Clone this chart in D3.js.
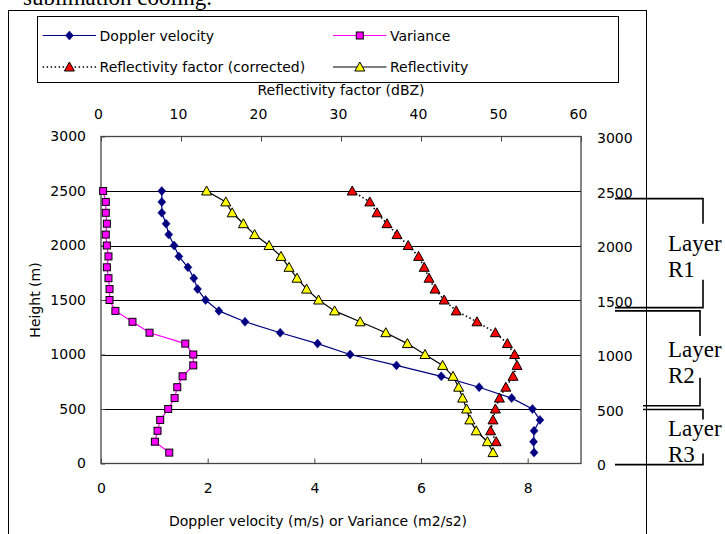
<!DOCTYPE html>
<html><head><meta charset="utf-8">
<script src="https://cdn.jsdelivr.net/npm/d3@7"></script>
<style>body{margin:0;background:#fff}svg{display:block}</style>
</head><body>
<svg id="c" width="725" height="534"></svg>
<script>
// ---------------- data ----------------
const heights = [2500,2400,2300,2200,2100,2000,1900,1800,1700,1600,1500,1400,1300,1200,1100,1000,900,800,700,600,500,400,300,200,100];
const dopplerVelocity = [1.14,1.14,1.14,1.22,1.27,1.37,1.46,1.63,1.74,1.81,1.96,2.21,2.70,3.36,4.06,4.67,5.54,6.38,7.09,7.70,8.09,8.23,8.12,8.11,8.12];
const variance = [0.04,0.09,0.09,0.11,0.09,0.11,0.14,0.11,0.14,0.16,0.16,0.27,0.59,0.91,1.58,1.73,1.73,1.53,1.43,1.38,1.26,1.11,1.06,1.01,1.28];
const reflectivity = [13.2,15.6,16.4,17.8,19.2,21.0,22.5,23.5,24.5,25.7,27.2,29.2,32.4,35.6,38.3,40.5,42.7,44.0,44.7,45.2,45.7,46.1,46.9,48.3,49.0];
const correctedHeights = heights.slice(0,24);
const reflectivityCorrected = [31.4,33.6,34.5,35.75,37.0,38.4,39.7,40.4,41.0,41.75,42.9,44.4,47.0,49.3,50.8,51.7,52.0,51.5,50.6,49.8,49.3,49.0,48.7,49.4];
const bottomTicks = [0,2,4,6,8];
const topTicks = [0,10,20,30,40,50,60];
const heightTicks = [0,500,1000,1500,2000,2500,3000];
const gridTicks = [500,1000,1500,2000,2500];
const legendLabels = ["Doppler velocity","Variance","Reflectivity factor (corrected)","Reflectivity"];
const layerNames = ["R1","R2","R3"];
const layerTops = [2430,1400,495];
const layerBottoms = [1430,530,-10];

// ---------------- layout ----------------
const svg = d3.select("#c");
const FONT = "'DejaVu Sans', sans-serif";
const FS = 14;
const L = 101, T = 136.5, W = 480, H = 327;
const x = d3.scaleLinear().domain([0,9]).range([L, L+W]);
const xTop = d3.scaleLinear().domain([0,60]).range([L, L+W]);
const y = d3.scaleLinear().domain([0,3000]).range([T+H, T]);

// caption text above, partially cut
svg.append("text").attr("x",23).attr("y",5).attr("font-family","'Liberation Serif', 'Times New Roman', serif")
  .attr("font-size",23).text("sublimation cooling.");

// chart border
svg.append("rect").attr("x",8.5).attr("y",10.5).attr("width",638).attr("height",560)
  .attr("fill","#fff").attr("stroke","#000").attr("stroke-width",1);

// legend
const lg = svg.append("g");
lg.append("rect").attr("x",37.5).attr("y",16.5).attr("width",581).attr("height",66)
  .attr("fill","#fff").attr("stroke","#000");

const diamond = "M0,-4.5L4,0L0,4.5L-4,0Z";
const tri = "M0,-5L5,4L-5,4Z";
const series = [
  {name:legendLabels[0], xs:dopplerVelocity, hs:heights, sc:x, line:"#000080", dash:null, shape:diamond, fill:"#000080", stroke:"#000080", sw:0.5, lx:42.6, ly:35.5},
  {name:legendLabels[1], xs:variance, hs:heights, sc:x, line:"#ff00ff", dash:null, shape:"square", fill:"#ff00ff", stroke:"#000", sw:1, lx:333, ly:35.5},
  {name:legendLabels[2], xs:reflectivityCorrected, hs:correctedHeights, sc:xTop, line:"#000", dash:"1.5,2.5", shape:tri, fill:"#ff0000", stroke:"#000", sw:1, lx:42.6, ly:67},
  {name:legendLabels[3], xs:reflectivity, hs:heights, sc:xTop, line:"#000", dash:null, shape:tri, fill:"#ffff00", stroke:"#000", sw:1, lx:333, ly:67}
];
function marker(g, s, cx, cy){
  if (s.shape === "square") {
    g.append("rect").attr("x",cx-3.5).attr("y",cy-3.5).attr("width",7).attr("height",7)
      .attr("fill",s.fill).attr("stroke",s.stroke).attr("stroke-width",s.sw);
  } else {
    g.append("path").attr("d",s.shape).attr("transform",`translate(${cx},${cy})`)
      .attr("fill",s.fill).attr("stroke",s.stroke).attr("stroke-width",s.sw);
  }
}
series.forEach(s=>{
  lg.append("line").attr("x1",s.lx).attr("x2",s.lx+53.5).attr("y1",s.ly).attr("y2",s.ly)
    .attr("stroke",s.line).attr("stroke-width",s.dash?1.6:1.2).attr("stroke-dasharray",s.dash);
  marker(lg, s, s.lx+26.8, s.ly);
  lg.append("text").attr("x",s.lx+57).attr("y",s.ly+5).attr("font-family",FONT).attr("font-size",FS).text(s.name);
});

// gridlines
svg.append("g").selectAll("line").data(gridTicks).join("line")
  .attr("x1",L).attr("x2",L+W).attr("y1",d=>Math.round(y(d))+0.5).attr("y2",d=>Math.round(y(d))+0.5)
  .attr("stroke","#000").attr("stroke-width",1);

// plot frame
svg.append("rect").attr("x",L).attr("y",T).attr("width",W).attr("height",H)
  .attr("fill","none").attr("stroke","#444").attr("stroke-width",1.3);

// axes
const axB = svg.append("g").attr("transform",`translate(0,${T+H})`)
  .call(d3.axisBottom(x).tickValues(bottomTicks).tickSize(-5).tickPadding(20).tickFormat(d3.format("d")));
const axT = svg.append("g").attr("transform",`translate(0,${T})`)
  .call(d3.axisTop(xTop).tickValues(topTicks).tickSize(-5).tickPadding(18).tickFormat(d3.format("d")));
const axL = svg.append("g").attr("transform",`translate(${L},0)`)
  .call(d3.axisLeft(y).tickValues(heightTicks).tickSize(-4).tickPadding(15).tickFormat(d3.format("d")));
const axR = svg.append("g").attr("transform",`translate(${L+W},0)`)
  .call(d3.axisRight(y).tickValues(heightTicks).tickSize(0).tickPadding(16).tickFormat(d3.format("d")));
[axB,axT,axL,axR].forEach(a=>{
  a.select(".domain").remove();
  a.selectAll(".tick line").attr("stroke","#444");
  a.selectAll("text").attr("font-family",FONT).attr("font-size",FS).attr("fill","#000");
});
axT.selectAll("text").attr("dx",-3);
axR.selectAll("text").attr("dy","0.45em");

// axis titles
svg.append("text").attr("x",L+W/2).attr("y",95).attr("text-anchor","middle").attr("font-family",FONT).attr("font-size",FS).text("Reflectivity factor (dBZ)");
svg.append("text").attr("x",L+W/2-23).attr("y",526).attr("text-anchor","middle").attr("font-family",FONT).attr("font-size",FS).text("Doppler velocity (m/s) or Variance (m2/s2)");
svg.append("text").attr("transform",`translate(40,${T+H/2}) rotate(-90)`).attr("text-anchor","middle").attr("font-family",FONT).attr("font-size",FS).text("Height (m)");

// series
series.forEach(s=>{
  const g = svg.append("g");
  const pts = s.xs.map((v,i)=>[s.sc(v), y(s.hs[i])]);
  g.append("path").attr("d",d3.line()(pts)).attr("fill","none").attr("stroke",s.line)
    .attr("stroke-width",s.dash?1.6:1.2).attr("stroke-dasharray",s.dash);
  pts.forEach(p=>marker(g,s,p[0],p[1]));
});

// layer annotations
const SERIF = "'Liberation Serif', 'Times New Roman', serif";
const ag = svg.append("g").attr("stroke","#000").attr("stroke-width",1.6).attr("fill","none");
const bx = 703, lx0 = 615, lx1 = 643;
layerNames.forEach((n,i)=>{
  const yt = y(layerTops[i]), yb = y(layerBottoms[i]);
  const xl = i===2 ? lx1 : lx0;
  const xlb = i===1 ? lx1 : lx0;
  const xv = i===1 ? 700 : bx;
  ag.append("path").attr("d",`M${xl},${yt}H${xv}V${yt+ (i===2?10:25)}`);
  ag.append("path").attr("d",`M${xlb},${yb}H${xv}V${yb-(i===2?11:28)}`);
  const ty = i===0 ? 251 : i===1 ? 356.5 : 435.5;
  svg.append("text").attr("x",668).attr("y",ty).attr("font-family",SERIF).attr("font-size",23).text("Layer");
  svg.append("text").attr("x",668).attr("y",ty+26).attr("font-family",SERIF).attr("font-size",23).text(n);
});
</script>
</body></html>
